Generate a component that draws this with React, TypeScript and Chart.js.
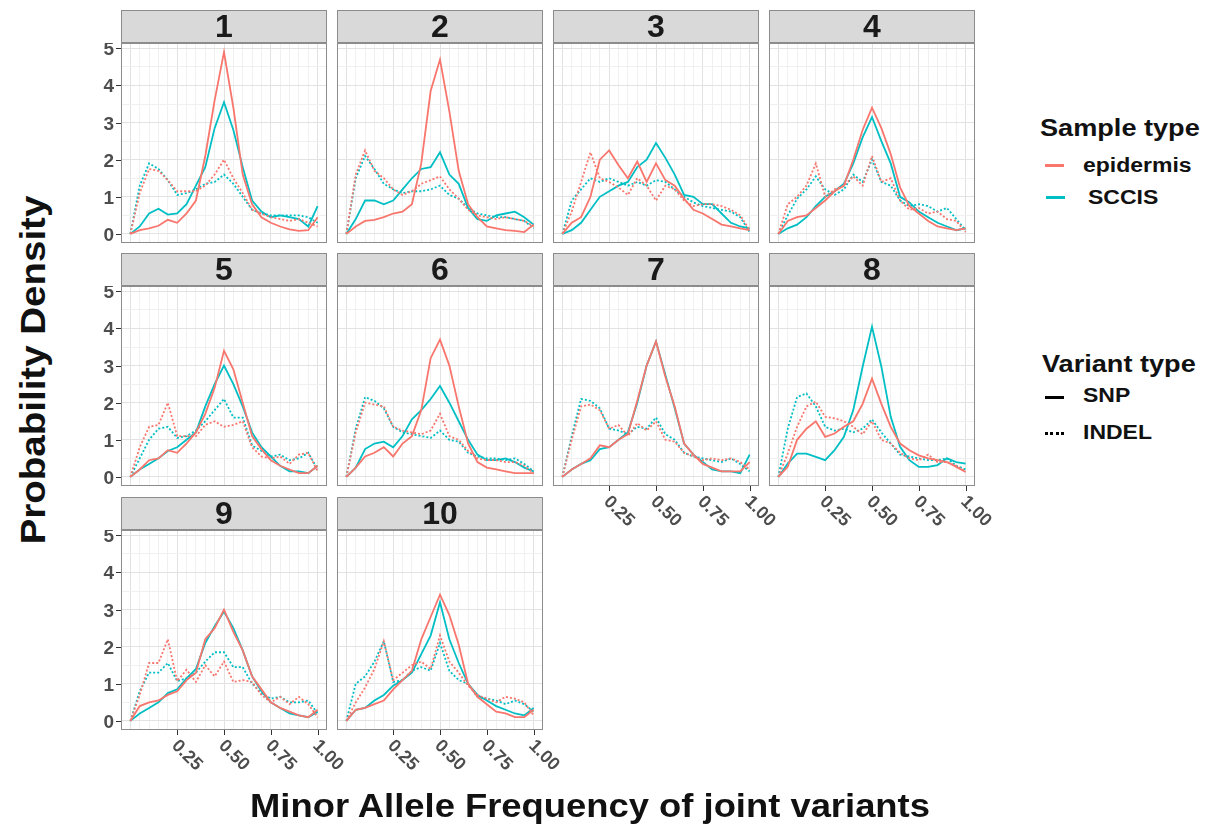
import React, { useEffect, useRef } from 'react';
import { Chart, registerables } from 'chart.js';

Chart.register(...registerables);

// ---------- data ----------
const MAF = [0, 0.05, 0.1, 0.15, 0.2, 0.25, 0.3, 0.35, 0.4, 0.45, 0.5, 0.55, 0.6, 0.65, 0.7, 0.75, 0.8, 0.85, 0.9, 0.95, 1.0];
const PANEL_LABELS = ['1', '2', '3', '4', '5', '6', '7', '8', '9', '10'];
const Y_TICKS = [0, 1, 2, 3, 4, 5];
const X_TICKS = [0.25, 0.5, 0.75, 1.0];
const X_TICK_LABELS = ['0.25', '0.50', '0.75', '1.00'];
const SAMPLE_TYPES = ['epidermis', 'SCCIS'];
const VARIANT_TYPES = ['SNP', 'INDEL'];

const epiSnp1 = [0, 0.1, 0.15, 0.22, 0.38, 0.3, 0.55, 0.9, 2.1, 3.6, 4.9, 3.4, 1.6, 0.8, 0.45, 0.3, 0.2, 0.12, 0.08, 0.1, 0.45];
const sccSnp1 = [0, 0.2, 0.55, 0.68, 0.52, 0.55, 0.8, 1.3, 1.8, 2.85, 3.55, 2.8, 1.8, 0.9, 0.6, 0.45, 0.5, 0.45, 0.4, 0.2, 0.75];
const epiIndel1 = [0, 1.1, 1.75, 1.7, 1.45, 1.15, 1.15, 1.15, 1.3, 1.6, 2.0, 1.5, 1.1, 0.65, 0.55, 0.45, 0.4, 0.35, 0.4, 0.3, 0.2];
const sccIndel1 = [0, 1.3, 1.9, 1.75, 1.45, 1.05, 1.1, 1.2, 1.35, 1.4, 1.6, 1.35, 1.0, 0.65, 0.55, 0.5, 0.5, 0.5, 0.5, 0.45, 0.3];

const epiSnp2 = [0, 0.2, 0.35, 0.38, 0.45, 0.55, 0.6, 0.8, 1.9, 3.85, 4.7, 3.3, 1.7, 0.8, 0.45, 0.2, 0.15, 0.1, 0.08, 0.05, 0.25];
const sccSnp2 = [0, 0.4, 0.9, 0.9, 0.8, 0.9, 1.2, 1.5, 1.75, 1.8, 2.2, 1.6, 1.35, 0.7, 0.4, 0.35, 0.5, 0.55, 0.6, 0.45, 0.25];
const epiIndel2 = [0, 1.6, 2.25, 1.7, 1.5, 1.2, 1.05, 1.15, 1.35, 1.45, 1.55, 1.2, 0.95, 0.65, 0.5, 0.45, 0.4, 0.45, 0.4, 0.35, 0.2];
const sccIndel2 = [0, 1.5, 2.1, 1.75, 1.35, 1.2, 1.1, 1.15, 1.15, 1.2, 1.3, 1.05, 0.95, 0.7, 0.55, 0.5, 0.45, 0.45, 0.4, 0.35, 0.15];

const epiSnp3 = [0, 0.3, 0.45, 1.0, 2.0, 2.25, 1.85, 1.5, 1.95, 1.4, 1.9, 1.45, 1.3, 0.95, 0.65, 0.55, 0.4, 0.25, 0.2, 0.15, 0.1];
const sccSnp3 = [0, 0.1, 0.3, 0.65, 1.0, 1.15, 1.3, 1.4, 1.8, 2.0, 2.45, 2.05, 1.6, 1.05, 1.0, 0.8, 0.8, 0.55, 0.3, 0.2, 0.15];
const epiIndel3 = [0, 0.6, 1.4, 2.2, 1.5, 1.4, 1.25, 1.05, 1.5, 1.3, 0.9, 1.3, 1.2, 0.9, 0.75, 0.8, 0.8, 0.75, 0.65, 0.5, 0.1];
const sccIndel3 = [0, 0.9, 1.2, 1.5, 1.4, 1.5, 1.4, 1.3, 1.4, 1.3, 1.45, 1.4, 1.2, 1.0, 0.85, 0.75, 0.7, 0.65, 0.6, 0.45, 0.05];

const epiSnp4 = [0, 0.35, 0.45, 0.5, 0.7, 0.9, 1.15, 1.3, 2.0, 2.8, 3.4, 2.85, 2.15, 1.25, 0.75, 0.55, 0.35, 0.2, 0.15, 0.1, 0.15];
const sccSnp4 = [0, 0.15, 0.25, 0.45, 0.75, 1.0, 1.15, 1.35, 1.9, 2.6, 3.15, 2.5, 1.9, 1.0, 0.85, 0.6, 0.45, 0.3, 0.2, 0.1, 0.15];
const epiIndel4 = [0, 0.8, 1.0, 1.3, 1.9, 1.0, 1.2, 1.3, 1.55, 1.3, 2.1, 1.4, 1.5, 0.9, 0.65, 0.7, 0.55, 0.6, 0.4, 0.35, 0.05];
const sccIndel4 = [0, 0.5, 0.95, 1.2, 1.55, 1.2, 1.05, 1.2, 1.6, 1.4, 2.0, 1.4, 1.3, 0.9, 0.75, 0.8, 0.75, 0.6, 0.7, 0.4, 0.1];

const epiSnp5 = [0, 0.2, 0.45, 0.5, 0.72, 0.65, 0.9, 1.2, 1.7, 2.4, 3.4, 2.9, 2.0, 1.1, 0.75, 0.45, 0.3, 0.2, 0.1, 0.1, 0.3];
const sccSnp5 = [0, 0.2, 0.35, 0.5, 0.7, 0.8, 1.0, 1.2, 1.9, 2.5, 3.0, 2.5, 1.9, 1.2, 0.8, 0.55, 0.3, 0.15, 0.15, 0.1, 0.3];
const epiIndel5 = [0, 0.8, 1.35, 1.4, 2.0, 1.1, 1.1, 1.1, 1.4, 1.5, 1.35, 1.4, 1.5, 0.8, 0.55, 0.5, 0.55, 0.35, 0.6, 0.65, 0.15];
const sccIndel5 = [0, 0.5, 1.0, 1.3, 1.35, 1.05, 1.1, 1.25, 1.5, 1.8, 2.1, 1.6, 1.6, 0.85, 0.7, 0.55, 0.6, 0.45, 0.5, 0.65, 0.2];

const epiSnp6 = [0, 0.25, 0.55, 0.65, 0.8, 0.55, 0.9, 1.1, 1.8, 3.2, 3.7, 3.0, 1.9, 0.9, 0.4, 0.25, 0.2, 0.15, 0.1, 0.1, 0.1];
const sccSnp6 = [0, 0.25, 0.75, 0.9, 0.95, 0.8, 1.1, 1.55, 1.8, 2.1, 2.45, 2.0, 1.5, 1.0, 0.6, 0.45, 0.45, 0.5, 0.4, 0.25, 0.15];
const epiIndel6 = [0, 1.2, 2.0, 1.95, 1.9, 1.35, 1.25, 1.2, 1.15, 1.25, 1.7, 1.1, 1.0, 0.7, 0.5, 0.45, 0.45, 0.4, 0.4, 0.3, 0.1];
const sccIndel6 = [0, 1.3, 2.15, 2.05, 1.85, 1.35, 1.2, 1.15, 1.1, 1.05, 1.25, 1.0, 0.95, 0.65, 0.55, 0.5, 0.5, 0.45, 0.5, 0.35, 0.15];

const epiSnp7 = [0, 0.2, 0.35, 0.5, 0.85, 0.8, 1.0, 1.15, 2.05, 3.0, 3.65, 2.7, 1.9, 0.9, 0.6, 0.35, 0.25, 0.15, 0.15, 0.15, 0.4];
const sccSnp7 = [0, 0.2, 0.35, 0.45, 0.75, 0.8, 1.0, 1.2, 2.0, 3.0, 3.65, 2.75, 1.85, 0.9, 0.6, 0.4, 0.2, 0.15, 0.15, 0.1, 0.6];
const epiIndel7 = [0, 1.0, 1.9, 1.95, 1.8, 1.3, 1.4, 1.1, 1.45, 1.25, 1.5, 1.0, 0.95, 0.65, 0.55, 0.45, 0.5, 0.45, 0.5, 0.4, 0.2];
const sccIndel7 = [0, 1.1, 2.1, 2.05, 1.85, 1.3, 1.25, 1.15, 1.35, 1.3, 1.6, 1.15, 1.0, 0.65, 0.55, 0.5, 0.45, 0.4, 0.5, 0.35, 0.15];

const epiSnp8 = [0, 0.27, 1.0, 1.3, 1.5, 1.08, 1.17, 1.35, 1.5, 1.97, 2.65, 1.97, 1.35, 0.9, 0.72, 0.58, 0.5, 0.45, 0.4, 0.27, 0.13];
const sccSnp8 = [0, 0.36, 0.63, 0.63, 0.54, 0.45, 0.72, 1.08, 1.8, 2.97, 4.05, 2.97, 1.62, 0.81, 0.45, 0.27, 0.27, 0.32, 0.5, 0.4, 0.36];
const epiIndel8 = [0, 0.63, 1.35, 1.9, 2.03, 1.62, 1.58, 1.5, 1.35, 1.15, 1.5, 1.0, 0.9, 0.65, 0.5, 0.45, 0.6, 0.4, 0.4, 0.3, 0.15];
const sccIndel8 = [0, 1.3, 2.15, 2.25, 1.9, 1.35, 1.25, 1.3, 1.2, 1.3, 1.55, 1.2, 0.9, 0.6, 0.55, 0.5, 0.45, 0.45, 0.5, 0.3, 0.2];

const epiSnp9 = [0, 0.4, 0.5, 0.55, 0.7, 0.8, 1.1, 1.3, 2.2, 2.5, 3.0, 2.4, 1.9, 1.2, 0.85, 0.5, 0.35, 0.25, 0.15, 0.1, 0.3];
const sccSnp9 = [0, 0.2, 0.35, 0.5, 0.75, 0.85, 1.15, 1.4, 2.1, 2.55, 2.95, 2.5, 1.9, 1.2, 0.8, 0.5, 0.35, 0.2, 0.15, 0.1, 0.25];
const epiIndel9 = [0, 0.7, 1.56, 1.56, 2.2, 1.07, 1.38, 1.05, 1.5, 1.2, 1.6, 1.05, 1.1, 1.05, 0.7, 0.5, 0.65, 0.45, 0.65, 0.45, 0.1];
const sccIndel9 = [0, 0.8, 1.3, 1.3, 1.56, 1.07, 1.15, 1.3, 1.6, 1.85, 1.85, 1.45, 1.45, 1.0, 0.75, 0.6, 0.65, 0.5, 0.5, 0.55, 0.2];

const epiSnp10 = [0, 0.3, 0.35, 0.45, 0.55, 0.85, 1.1, 1.35, 2.2, 2.8, 3.4, 2.85, 2.05, 1.0, 0.65, 0.45, 0.25, 0.2, 0.1, 0.1, 0.3];
const sccSnp10 = [0, 0.3, 0.35, 0.55, 0.7, 0.95, 1.1, 1.3, 1.8, 2.3, 3.2, 2.2, 1.56, 1.0, 0.7, 0.55, 0.4, 0.3, 0.2, 0.15, 0.35];
const epiIndel10 = [0, 0.5, 0.9, 1.4, 2.15, 1.1, 1.3, 1.5, 1.6, 1.4, 2.3, 1.6, 1.3, 0.95, 0.7, 0.6, 0.5, 0.65, 0.6, 0.5, 0.15];
const sccIndel10 = [0, 1.0, 1.2, 1.6, 2.15, 1.05, 1.1, 1.35, 1.45, 1.35, 2.1, 1.35, 1.1, 1.0, 0.65, 0.6, 0.55, 0.45, 0.55, 0.45, 0.25];

const PANEL_SERIES = [
  [epiSnp1, epiIndel1, sccSnp1, sccIndel1],
  [epiSnp2, epiIndel2, sccSnp2, sccIndel2],
  [epiSnp3, epiIndel3, sccSnp3, sccIndel3],
  [epiSnp4, epiIndel4, sccSnp4, sccIndel4],
  [epiSnp5, epiIndel5, sccSnp5, sccIndel5],
  [epiSnp6, epiIndel6, sccSnp6, sccIndel6],
  [epiSnp7, epiIndel7, sccSnp7, sccIndel7],
  [epiSnp8, epiIndel8, sccSnp8, sccIndel8],
  [epiSnp9, epiIndel9, sccSnp9, sccIndel9],
  [epiSnp10, epiIndel10, sccSnp10, sccIndel10],
];

// ---------- style / layout ----------
const RED = '#F8766D';
const TEAL = '#00BFC4';
const FONT = '"Liberation Sans", Arial, Helvetica, sans-serif';
const PANEL_LEFT = [121, 337, 553, 769];
const STRIP_TOP = [10, 253, 497];
const PANEL_W = 206;
const STRIP_H = 33;
const PLOT_H = 200;
const PAD_L = 45;
const PAD_R = 40;
const PAD_B = 60;
const GRID_X = Array.from({ length: 21 }, (_, i) => i * 0.05);
const GRID_Y = Array.from({ length: 11 }, (_, i) => i * 0.5);

const isMult = (v: number, step: number) => Math.abs(v / step - Math.round(v / step)) < 1e-6;

const decorPlugin = {
  id: 'decor',
  afterDraw(chart: any, _args: any, opts: any) {
    const { ctx, chartArea: a, scales } = chart;
    ctx.save();
    ctx.strokeStyle = '#8C8C8C';
    ctx.lineWidth = 1;
    ctx.strokeRect(a.left + 0.5, a.top + 0.5, a.right - a.left - 1, a.bottom - a.top - 1);
    ctx.fillStyle = '#4D4D4D';
    ctx.font = `bold 19px ${FONT}`;
    if (opts.showY) {
      ctx.textAlign = 'right';
      ctx.textBaseline = 'middle';
      ctx.strokeStyle = '#333333';
      for (const v of Y_TICKS) {
        const y = Math.round(scales.y.getPixelForValue(v)) + 0.5;
        ctx.beginPath();
        ctx.moveTo(a.left - 5, y);
        ctx.lineTo(a.left, y);
        ctx.stroke();
        ctx.fillText(String(v), a.left - 7, y + 1);
      }
    }
    if (opts.showX) {
      ctx.font = `bold 18px ${FONT}`;
      ctx.strokeStyle = '#333333';
      X_TICKS.forEach((v, i) => {
        const x = Math.round(scales.x.getPixelForValue(v)) + 0.5;
        ctx.beginPath();
        ctx.moveTo(x, a.bottom);
        ctx.lineTo(x, a.bottom + 5);
        ctx.stroke();
        ctx.save();
        ctx.translate(x - 3, a.bottom + 13);
        ctx.rotate(Math.PI / 4);
        ctx.textAlign = 'left';
        ctx.textBaseline = 'middle';
        ctx.fillText(X_TICK_LABELS[i], 0, 0);
        ctx.restore();
      });
    }
    ctx.restore();
  },
};

function makeDataset(values: number[], color: string, dotted: boolean) {
  return {
    data: MAF.map((x, i) => ({ x, y: values[i] })),
    borderColor: color,
    borderWidth: 1.8,
    borderDash: dotted ? [2, 2] : [],
    pointRadius: 0,
    tension: 0,
    fill: false,
  };
}

function Panel({ idx }: { idx: number }) {
  const ref = useRef<HTMLCanvasElement>(null);
  const row = Math.floor(idx / 4);
  const col = idx % 4;
  const left = PANEL_LEFT[col];
  const top = STRIP_TOP[row];
  const showY = col === 0;
  const showX = idx >= 6;
  const cw = PANEL_W + PAD_L + PAD_R;
  const ch = PLOT_H + PAD_B;

  useEffect(() => {
    const [eS, eI, sS, sI] = PANEL_SERIES[idx];
    const chart = new Chart(ref.current as HTMLCanvasElement, {
      type: 'line',
      data: {
        datasets: [
          makeDataset(eS, RED, false),
          makeDataset(eI, RED, true),
          makeDataset(sS, TEAL, false),
          makeDataset(sI, TEAL, true),
        ] as any,
      },
      options: {
        responsive: false,
        animation: false,
        devicePixelRatio: 1,
        layout: { padding: { left: PAD_L, bottom: PAD_B, top: 0, right: PAD_R } },
        plugins: {
          legend: { display: false },
          tooltip: { enabled: false },
          decor: { showY, showX },
        } as any,
        scales: {
          x: {
            type: 'linear',
            min: -0.05,
            max: 1.05,
            afterBuildTicks: (s: any) => {
              s.ticks = GRID_X.map((v) => ({ value: v }));
            },
            ticks: { display: false },
            grid: {
              drawTicks: false,
              color: (c: any) => (isMult(c.tick?.value ?? 0, 0.25) ? '#E2E2E2' : '#F0F0F0'),
              lineWidth: 1,
            },
            border: { display: false },
          },
          y: {
            type: 'linear',
            min: -0.245,
            max: 5.145,
            afterBuildTicks: (s: any) => {
              s.ticks = GRID_Y.map((v) => ({ value: v }));
            },
            ticks: { display: false },
            grid: {
              drawTicks: false,
              color: (c: any) => (isMult(c.tick?.value ?? 0, 1) ? '#E2E2E2' : '#F0F0F0'),
              lineWidth: 1,
            },
            border: { display: false },
          },
        } as any,
      },
      plugins: [decorPlugin as any],
    });
    return () => chart.destroy();
  }, [idx]);

  return (
    <>
      <canvas
        ref={ref}
        width={cw}
        height={ch}
        style={{ position: 'absolute', left: left - PAD_L, top: top + STRIP_H, width: cw, height: ch }}
      />
      <div
        style={{
          position: 'absolute',
          left,
          top,
          width: PANEL_W,
          height: STRIP_H,
          boxSizing: 'border-box',
          background: '#D9D9D9',
          border: '1px solid #8C8C8C',
          textAlign: 'center',
          fontWeight: 'bold',
          fontSize: 32,
          lineHeight: '31px',
          color: '#1A1A1A',
        }}
      >
        {PANEL_LABELS[idx]}
      </div>
    </>
  );
}

const legendText = (text: string, left: number, cy: number, size: number, sx: number) => (
  <div
    style={{
      position: 'absolute',
      left,
      top: cy - size / 2,
      height: size,
      lineHeight: `${size}px`,
      fontSize: size,
      fontWeight: 'bold',
      whiteSpace: 'nowrap',
      color: '#111',
      transform: `scaleX(${sx})`,
      transformOrigin: 'left center',
    }}
  >
    {text}
  </div>
);

export default function App() {
  return (
    <div style={{ position: 'absolute', left: 0, top: 0, width: 1218, height: 830, background: '#fff', fontFamily: FONT, overflow: 'hidden' }}>
      {PANEL_LABELS.map((_, i) => (
        <Panel key={i} idx={i} />
      ))}
      {/* axis titles */}
      <div
        style={{
          position: 'absolute',
          left: 32,
          top: 370,
          fontSize: 35,
          fontWeight: 'bold',
          whiteSpace: 'nowrap',
          color: '#111',
          lineHeight: '35px',
          transform: 'translate(-50%, -50%) rotate(-90deg) scaleX(1.1)',
        }}
      >
        Probability Density
      </div>
      <div
        style={{
          position: 'absolute',
          left: 590,
          top: 805,
          fontSize: 34,
          fontWeight: 'bold',
          whiteSpace: 'nowrap',
          color: '#111',
          lineHeight: '34px',
          transform: 'translate(-50%, -50%) scaleX(1.07)',
        }}
      >
        Minor Allele Frequency of joint variants
      </div>
      {/* legend: sample type */}
      {legendText('Sample type', 1040, 128, 24, 1.13)}
      <div style={{ position: 'absolute', left: 1045, top: 164, width: 19, height: 3, background: RED }} />
      {legendText(SAMPLE_TYPES[0], 1083, 165, 20, 1.15)}
      <div style={{ position: 'absolute', left: 1046, top: 196, width: 19, height: 3, background: TEAL }} />
      {legendText(SAMPLE_TYPES[1], 1088, 197, 20, 1.15)}
      {/* legend: variant type */}
      {legendText('Variant type', 1042, 364, 24, 1.13)}
      <div style={{ position: 'absolute', left: 1045, top: 396, width: 19, height: 3, background: '#000' }} />
      {legendText(VARIANT_TYPES[0], 1083, 395, 20, 1.15)}
      <div style={{ position: 'absolute', left: 1045, top: 432, width: 19, height: 0, borderTop: '3px dotted #000' }} />
      {legendText(VARIANT_TYPES[1], 1083, 432, 20, 1.15)}
    </div>
  );
}
